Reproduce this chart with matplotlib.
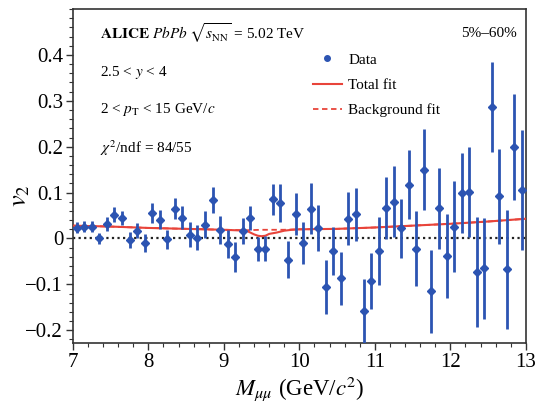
import matplotlib
matplotlib.use('Agg')
import matplotlib.pyplot as plt
from matplotlib.lines import Line2D
from matplotlib.ticker import MultipleLocator

# ALICE PbPb v2 vs dimuon mass (Upsilon region)
mass = [7.05, 7.15, 7.25, 7.35, 7.45, 7.55, 7.65, 7.75, 7.85, 7.95,
        8.05, 8.15, 8.25, 8.35, 8.45, 8.55, 8.65, 8.75, 8.85, 8.95,
        9.05, 9.15, 9.25, 9.35, 9.45, 9.55, 9.65, 9.75, 9.85, 9.95,
        10.05, 10.15, 10.25, 10.35, 10.45, 10.55, 10.65, 10.75, 10.85, 10.95,
        11.05, 11.15, 11.25, 11.35, 11.45, 11.55, 11.65, 11.75, 11.85, 11.95,
        12.05, 12.15, 12.25, 12.35, 12.45, 12.55, 12.65, 12.75, 12.85, 12.95]
v2 = [0.023, 0.026, 0.026, 0.000, 0.032, 0.052, 0.044, -0.003, 0.017, -0.010,
      0.056, 0.041, -0.002, 0.065, 0.045, 0.008, 0.002, 0.030, 0.084, 0.019,
      -0.012, -0.040, 0.017, 0.044, -0.022, -0.022, 0.085, 0.078, -0.046, 0.054,
      -0.010, 0.065, 0.023, -0.105, -0.028, -0.087, 0.043, 0.053, -0.158, -0.093,
      -0.028, 0.067, 0.080, 0.022, 0.117, -0.022, 0.150, -0.115, 0.066, -0.038,
      0.026, 0.099, 0.102, -0.073, -0.065, 0.287, 0.092, -0.067, 0.199, 0.106]
v2_err = [0.012, 0.012, 0.012, 0.012, 0.015, 0.016, 0.015, 0.018, 0.016, 0.020,
          0.022, 0.021, 0.021, 0.023, 0.025, 0.027, 0.028, 0.029, 0.029, 0.031,
          0.030, 0.033, 0.028, 0.026, 0.026, 0.028, 0.034, 0.041, 0.041, 0.046,
          0.045, 0.055, 0.050, 0.059, 0.052, 0.057, 0.058, 0.058, 0.069, 0.061,
          0.074, 0.068, 0.077, 0.065, 0.075, 0.082, 0.089, 0.091, 0.088, 0.092,
          0.100, 0.087, 0.098, 0.119, 0.110, 0.098, 0.103, 0.130, 0.115, 0.131]

# fit curves
bkg_x = [7.0, 7.5, 8.0, 8.5, 9.0, 9.3, 9.5, 9.8, 10.0, 10.5, 11.0, 11.5, 12.0, 12.5, 13.0]
bkg_y = [0.028, 0.026, 0.023, 0.021, 0.019, 0.018, 0.019, 0.019, 0.020, 0.021,
         0.024, 0.028, 0.032, 0.037, 0.043]
tot_x = [7.0, 7.5, 8.0, 8.5, 9.0, 9.3, 9.35, 9.4, 9.45, 9.5, 9.55, 9.6, 9.7,
         9.8, 9.9, 10.0, 10.5, 11.0, 11.5, 12.0, 12.5, 13.0]
tot_y = [0.028, 0.026, 0.023, 0.021, 0.019, 0.017, 0.013, 0.009, 0.006, 0.005,
         0.006, 0.010, 0.013, 0.017, 0.019, 0.020, 0.021, 0.024, 0.028, 0.032,
         0.037, 0.043]

blue = '#2c54b2'
red = '#e8443a'

plt.rcParams['font.family'] = ['Liberation Serif', 'DejaVu Serif']
plt.rcParams['mathtext.fontset'] = 'stix'

fig = plt.figure(figsize=(5.36, 4.09), dpi=100)
ax = fig.add_axes([0.136, 0.161, 0.845, 0.817])

ax.axhline(0, color='#222222', lw=1.6, linestyle=(0, (1, 1.5)), zorder=1)
ax.plot(bkg_x, bkg_y, color=red, lw=1.3, linestyle=(0, (3, 2)), zorder=2)
ax.plot(tot_x, tot_y, color=red, lw=1.5, zorder=3)
ax.errorbar(mass, v2, yerr=v2_err, fmt='D', color=blue, ms=4, elinewidth=2,
            capsize=0, zorder=4)

ax.set_xlim(7, 13)
ax.set_ylim(-0.228, 0.5)
ax.xaxis.set_major_locator(MultipleLocator(1))
ax.xaxis.set_minor_locator(MultipleLocator(0.2))
ax.yaxis.set_major_locator(MultipleLocator(0.1))
ax.yaxis.set_minor_locator(MultipleLocator(0.02))
ax.set_yticks([-0.2, -0.1, 0, 0.1, 0.2, 0.3, 0.4])
ax.set_yticklabels(['\u22120.2', '\u22120.1', '0', '0.1', '0.2', '0.3', '0.4'])
ax.tick_params(which='both', direction='out', labelsize=15, color='#333333')
ax.tick_params(which='major', length=5, width=1, pad=2)
ax.tick_params(which='minor', length=3, width=0.8)
for s in ax.spines.values():
    s.set_linewidth(1.2)
    s.set_color('#333333')

ax.set_xlabel(r'$M_{\mu\mu}$ (GeV/$c^2$)', fontsize=16.5, labelpad=2)
ax.set_ylabel(r'$v_2$', fontsize=19)
ax.yaxis.set_label_coords(-0.09, 0.44)

# annotations
ax.text(0.06, 0.928, r'$\mathbf{ALICE}$ $\it{PbPb}$ $\sqrt{s_{\rm NN}}$ = 5.02 TeV',
        transform=ax.transAxes, fontsize=11, va='center', ha='left')
ax.text(0.06, 0.811, r'2.5 < $y$ < 4', transform=ax.transAxes, fontsize=11,
        va='center', ha='left')
ax.text(0.06, 0.70, r'2 < $p_{\rm T}$ < 15 GeV/$c$', transform=ax.transAxes,
        fontsize=11, va='center', ha='left')
ax.text(0.06, 0.584, r'$\chi^2$/ndf = 84/55', transform=ax.transAxes,
        fontsize=11, va='center', ha='left')
ax.text(0.98, 0.928, '5%\u201360%', transform=ax.transAxes, fontsize=11,
        va='center', ha='right')

handles = [
    Line2D([], [], marker='o', color=blue, ls='none', ms=4),
    Line2D([], [], color=red, lw=1.5),
    Line2D([], [], color=red, lw=1.3, linestyle=(0, (3, 2))),
]
ax.legend(handles, ['Data', 'Total fit', 'Background fit'], loc='upper left',
          bbox_to_anchor=(0.53, 0.868), frameon=False, fontsize=11,
          handlelength=1.9, handletextpad=0.4, labelspacing=0.75,
          borderpad=0, borderaxespad=0)

plt.savefig('out.png', dpi=100)
plt.close()
